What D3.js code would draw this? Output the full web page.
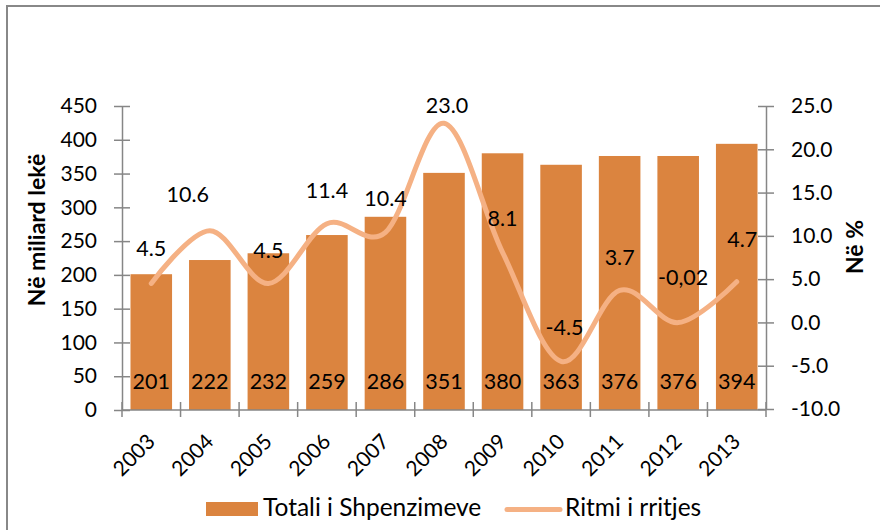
<!DOCTYPE html>
<html><head><meta charset="utf-8">
<script src="https://cdn.jsdelivr.net/npm/d3@7"></script>
<style>
html,body{margin:0;padding:0;background:#fff;}
svg{display:block;}
text{font-family:Lato,"Open Sans",sans-serif;fill:#000;}
</style></head>
<body>
<svg id="chart" width="880" height="530"></svg>
<script>
const years = ["2003","2004","2005","2006","2007","2008","2009","2010","2011","2012","2013"];
const totals = [201,222,232,259,286,351,380,363,376,376,394];
const growth = [4.5,10.6,4.5,11.4,10.4,23.0,8.1,-4.5,3.7,-0.02,4.7];
const growthLabels = ["4.5","10.6","4.5","11.4","10.4","23.0","8.1","-4.5","3.7","-0,02","4.7"];
const leftTicks = [0,50,100,150,200,250,300,350,400,450];
const rightTicks = [-10,-5,0,5,10,15,20,25];
const leftTitle = "Në miliard lekë";
const rightTitle = "Në %";
const seriesNames = ["Totali i Shpenzimeve","Ritmi i rritjes"];
// layout-only offsets for growth labels [dx, dy]
const labelOffsets = [[0,-27],[-22,-29],[0,-25.5],[0,-26],[0,-26],[3,-10],[0,-26],[3.5,-26],[0,-25.5],[5,-37.5],[5.5,-35]];

const barColor = "#DB843F", lineColor = "#F5B184", axisColor = "#868686";
const L = 122, R = 766, T = 106, B = 410;

const svg = d3.select("#chart");
svg.append("rect").attr("x",7).attr("y",6).attr("width",900).attr("height",600)
  .attr("fill","none").attr("stroke","#888").attr("stroke-width",2);

const x = d3.scaleBand().domain(years).range([L,R]).paddingInner(0.29).paddingOuter(0.145);
const yL = d3.scaleLinear().domain([0,450]).range([B,T]);
const yR = d3.scaleLinear().domain([-10,25]).range([B-1,T]);

svg.append("g").selectAll("rect").data(totals).join("rect")
  .attr("x",(d,i)=>x(years[i])).attr("width",x.bandwidth())
  .attr("y",d=>yL(d)).attr("height",d=>yL(0)-yL(d))
  .attr("fill",barColor);

const gL = svg.append("g").attr("transform",`translate(${L},0)`)
  .call(d3.axisLeft(yL).tickValues(leftTicks).tickSize(8).tickPadding(17).tickSizeOuter(0));
gL.select(".domain").attr("stroke",axisColor).attr("stroke-width",1.5);
gL.selectAll(".tick line").attr("x1",8).attr("stroke",axisColor).attr("stroke-width",1.5);
gL.selectAll(".tick text").attr("font-family","Lato").attr("font-size",21).attr("fill","#000");

const gR = svg.append("g").attr("transform",`translate(${R},0)`)
  .call(d3.axisRight(yR).tickValues(rightTicks).tickFormat(d=>d.toFixed(1)).tickSize(8).tickPadding(17).tickSizeOuter(0));
gR.select(".domain").attr("stroke",axisColor).attr("stroke-width",1.5);
gR.selectAll(".tick line").attr("x1",-8).attr("stroke",axisColor).attr("stroke-width",1.5);
gR.selectAll(".tick text").attr("font-family","Lato").attr("font-size",21).attr("fill","#000");

const gX = svg.append("g");
gX.append("line").attr("x1",L).attr("x2",R).attr("y1",B).attr("y2",B)
  .attr("stroke",axisColor).attr("stroke-width",1.5);
gX.selectAll("line.tk").data(d3.range(years.length+1)).join("line").attr("class","tk")
  .attr("x1",i=>x.range()[0]+i*x.step()).attr("x2",i=>x.range()[0]+i*x.step())
  .attr("y1",B-8).attr("y2",B+7).attr("stroke",axisColor).attr("stroke-width",1.5);
gX.selectAll("text").data(years).join("text")
  .attr("transform",d=>`translate(${x(d)+x.bandwidth()/2+5},443) rotate(-45)`)
  .attr("text-anchor","end").attr("font-size",21).text(d=>d);

svg.append("g").selectAll("text").data(totals).join("text")
  .attr("x",(d,i)=>x(years[i])+x.bandwidth()/2).attr("y",yL(0)-21)
  .attr("text-anchor","middle").attr("font-size",21.5).text(d=>d);

const cx = i => x(years[i])+x.bandwidth()/2;
const line = d3.line().x((d,i)=>cx(i)).y(d=>yR(d)).curve(d3.curveCardinal.tension(0));
svg.append("path").datum(growth).attr("d",line).attr("fill","none")
  .attr("stroke",lineColor).attr("stroke-width",5).attr("stroke-linecap","round");

svg.append("g").selectAll("text").data(growth).join("text")
  .attr("x",(d,i)=>cx(i)+labelOffsets[i][0]).attr("y",(d,i)=>yR(d)+labelOffsets[i][1])
  .attr("text-anchor","middle").attr("font-size",21.5).text((d,i)=>growthLabels[i]);

svg.append("text").attr("transform","translate(45,230) rotate(-90)")
  .attr("text-anchor","middle").attr("font-weight","bold").attr("font-size",23).text(leftTitle);
svg.append("text").attr("transform","translate(863,247) rotate(-90)")
  .attr("text-anchor","middle").attr("font-weight","bold").attr("font-size",23).text(rightTitle);

const lg = svg.append("g");
lg.append("rect").attr("x",206).attr("y",502).attr("width",52).attr("height",14).attr("fill",barColor);
lg.append("text").attr("x",263).attr("y",516).attr("font-size",24.5).text(seriesNames[0]);
lg.append("line").attr("x1",507).attr("x2",560).attr("y1",509.5).attr("y2",509.5)
  .attr("stroke",lineColor).attr("stroke-width",5).attr("stroke-linecap","round");
lg.append("text").attr("x",565).attr("y",516).attr("font-size",24.5).text(seriesNames[1]);
</script>
</body></html>
